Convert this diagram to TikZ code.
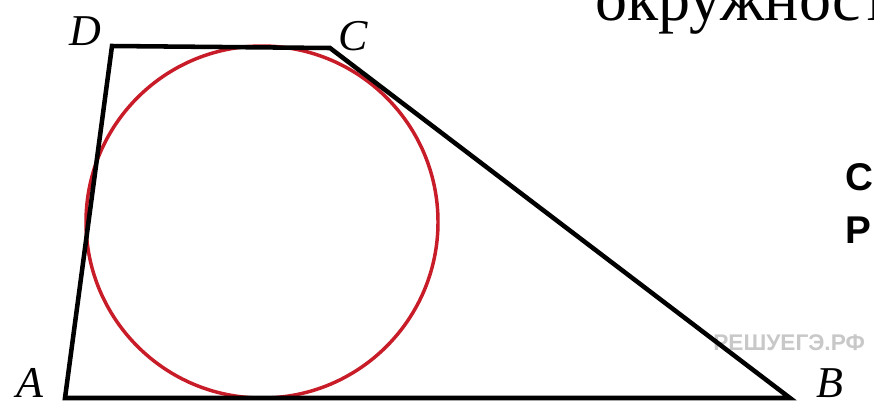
\documentclass[tikz,border=0pt]{standalone}
\usepackage{fontspec}
\setmainfont{Liberation Serif}
\newfontfamily\arialfont{Liberation Sans}
\definecolor{circred}{RGB}{200,28,40}
\definecolor{wmgray}{RGB}{200,200,200}
\begin{document}
\begin{tikzpicture}[x=0.75pt,y=-0.75pt,
  edge/.style={line width=3.4pt,line join=miter},
  lbl/.style={font=\fontsize{33}{33}\selectfont\itshape,inner sep=0pt},
  side/.style={font=\arialfont\bfseries\fontsize{29}{29}\selectfont,inner sep=0pt,anchor=west}]
\useasboundingbox (0,0) rectangle (874,405);
\clip (0,0) rectangle (874,405);
\fill[white] (0,0) rectangle (874,405);
\coordinate (A) at (65,398);
\coordinate (B) at (790,398);
\coordinate (C) at (330,48);
\coordinate (D) at (112,46);
\coordinate (O) at (262,222);
\node[font=\arialfont\bfseries\fontsize{17}{17}\selectfont,text=wmgray,anchor=west,inner sep=0pt] (wm) at (713,343) {РЕШУЕГЭ.РФ};
\draw[circred,line width=2.6pt] (O) circle[radius=176];
\draw[edge] (A) -- (B) -- (C) -- (D) -- cycle;
\node[lbl] (lA) at (30,383) {A};
\node[lbl] (lB) at (830,383) {B};
\node[lbl] (lC) at (353,36) {C};
\node[lbl] (lD) at (85,31) {D};
\node[font=\fontsize{48}{48}\selectfont,anchor=base west,inner sep=0pt] (t) at (595,20) {окружност};
\node[side] (s1) at (845,177) {С};
\node[side] (s2) at (845,230) {Р};
\end{tikzpicture}
\end{document}
